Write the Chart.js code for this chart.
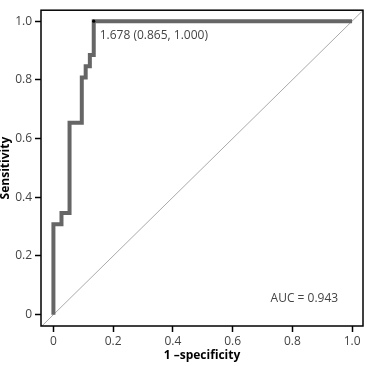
<!DOCTYPE html>
<html>
<head>
<meta charset="utf-8">
<script src="https://cdn.jsdelivr.net/npm/chart.js@4.4.0/dist/chart.umd.min.js"></script>
<style>
  html, body { margin: 0; padding: 0; background: #fff; }
  #wrap { width: 367px; height: 366px; }
</style>
</head>
<body>
<div id="wrap"><canvas id="chart"></canvas></div>
<script>
// ROC curve
const fpr = [0, 0, 0.027, 0.027, 0.054, 0.054, 0.095, 0.095, 0.108, 0.108, 0.122, 0.122, 0.135, 0.135, 1.0];
const tpr = [0, 0.308, 0.308, 0.346, 0.346, 0.654, 0.654, 0.808, 0.808, 0.846, 0.846, 0.885, 0.885, 1.0, 1.0];
const cutX = 0.135, cutY = 1.0;
const cutLabel = '1.678 (0.865, 1.000)';
const aucLabel = 'AUC = 0.943';
const aucPos = [0.727, 0.055];
const tickVals = [0, 0.2, 0.4, 0.6, 0.8, 1.0];
const xRange = [-0.0416, 1.0366];
const yRange = [-0.0387, 1.0374];

const FONT = '"Open Sans", sans-serif';

const rocPts = fpr.map((x, i) => ({ x: x, y: tpr[i] }));
const diagPts = [{ x: -0.1, y: -0.1 }, { x: 1.1, y: 1.1 }];

// box + text labels
const extras = {
  id: 'extras',
  afterDatasetsDraw(chart) {
    const { ctx, chartArea: a, scales } = chart;
    ctx.save();
    ctx.strokeStyle = '#000';
    ctx.lineWidth = 1.5;
    ctx.strokeRect(a.left, a.top, a.right - a.left, a.bottom - a.top);

    ctx.fillStyle = '#444';
    ctx.font = '12px ' + FONT;
    ctx.textBaseline = 'middle';
    ctx.textAlign = 'left';
    ctx.fillText(cutLabel, scales.x.getPixelForValue(cutX) + 6, scales.y.getPixelForValue(cutY) + 14);
    ctx.fillText(aucLabel, scales.x.getPixelForValue(aucPos[0]), scales.y.getPixelForValue(aucPos[1]));
    ctx.restore();
  }
};

const tickFmt = v => (v === 0 ? '0' : v.toFixed(1));

new Chart(document.getElementById('chart').getContext('2d'), {
  type: 'scatter',
  data: {
    datasets: [
      { data: diagPts, showLine: true, borderColor: '#aaa', borderWidth: 1, pointRadius: 0, order: 3 },
      { data: rocPts, showLine: true, borderColor: '#666', borderWidth: 4, pointRadius: 0,
        borderJoinStyle: 'miter', borderCapStyle: 'butt', order: 2 },
      { data: [{ x: cutX, y: cutY }], pointRadius: 1.6, pointBackgroundColor: '#000', pointBorderWidth: 0, order: 1 }
    ]
  },
  options: {
    responsive: true,
    maintainAspectRatio: false,
    animation: false,
    layout: { padding: { top: 1, right: 2, left: 0, bottom: 0 } },
    plugins: { legend: { display: false }, tooltip: { enabled: false } },
    scales: {
      x: {
        type: 'linear', min: xRange[0], max: xRange[1],
        afterBuildTicks: s => { s.ticks = tickVals.map(v => ({ value: v })); },
        afterFit: s => { s.height = 40; },
        border: { display: false },
        grid: { drawOnChartArea: false, drawTicks: true, tickLength: 6, tickColor: '#000', tickWidth: 1.5 },
        ticks: { callback: tickFmt, color: '#444', font: { family: FONT, size: 12 }, padding: 2, maxRotation: 0 },
        title: { display: true, text: '1 \u2013specificity', color: '#000',
                 font: { family: FONT, size: 12, weight: 'bold', lineHeight: 1 }, padding: { top: 0, bottom: 4 } }
      },
      y: {
        type: 'linear', min: yRange[0], max: yRange[1],
        afterBuildTicks: s => { s.ticks = tickVals.map(v => ({ value: v })); },
        afterFit: s => { s.width = 41; },
        border: { display: false },
        grid: { drawOnChartArea: false, drawTicks: true, tickLength: 6, tickColor: '#000', tickWidth: 1.5 },
        ticks: { callback: tickFmt, color: '#444', font: { family: FONT, size: 12 }, padding: 3 },
        title: { display: true, text: 'Sensitivity', color: '#000',
                 font: { family: FONT, size: 12, weight: 'bold', lineHeight: 1 }, padding: { top: 0, bottom: 0 } }
      }
    }
  },
  plugins: [extras]
});
</script>
</body>
</html>
